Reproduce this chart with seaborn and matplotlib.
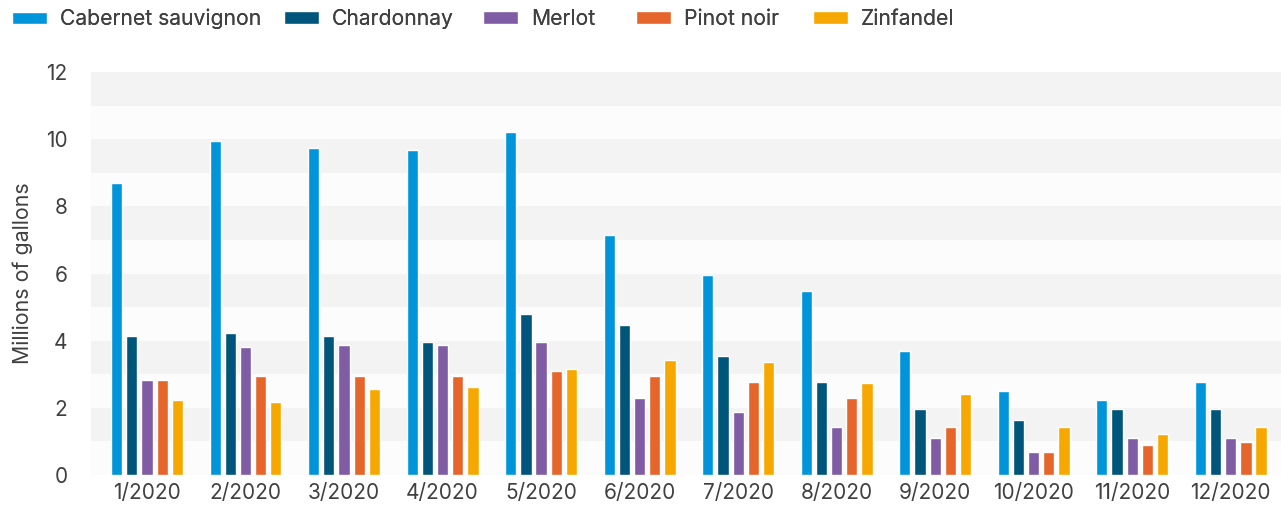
import matplotlib
matplotlib.use("Agg")

import numpy as np
import pandas as pd
import matplotlib.pyplot as plt
import seaborn as sns
from matplotlib.patches import Patch

# Monthly shipments (millions of gallons)
months = ["1/2020", "2/2020", "3/2020", "4/2020", "5/2020", "6/2020",
          "7/2020", "8/2020", "9/2020", "10/2020", "11/2020", "12/2020"]
cabernet = [8.7, 9.95, 9.75, 9.68, 10.2, 7.15, 5.96, 5.48, 3.7, 2.5, 2.24, 2.77]
chardonnay = [4.14, 4.23, 4.14, 3.96, 4.8, 4.47, 3.55, 2.77, 1.97, 1.64, 1.97, 1.97]
merlot = [2.83, 3.81, 3.87, 3.87, 3.96, 2.3, 1.88, 1.43, 1.1, 0.69, 1.1, 1.1]
pinot = [2.83, 2.95, 2.95, 2.95, 3.1, 2.95, 2.77, 2.3, 1.43, 0.69, 0.89, 0.98]
zinfandel = [2.24, 2.18, 2.56, 2.62, 3.16, 3.43, 3.37, 2.74, 2.41, 1.43, 1.22, 1.43]

varieties = ["Cabernet sauvignon", "Chardonnay", "Merlot", "Pinot noir", "Zinfandel"]
colors = ["#0095da", "#00567a", "#7f5ca3", "#e6652a", "#f7a800"]

df = pd.DataFrame({
    "month": months * 5,
    "variety": np.repeat(varieties, len(months)),
    "gallons": cabernet + chardonnay + merlot + pinot + zinfandel,
})

sns.set_theme(style="white")
plt.rcParams["font.family"] = ["Inter", "DejaVu Sans"]

W, H = 1281, 507
fig = plt.figure(figsize=(W / 100, H / 100), dpi=100)
ax = fig.add_axes([91 / W, 32 / H, 1190 / W, 403 / H])

# alternating horizontal bands
ax.set_facecolor("#fcfcfc")
for lo in range(1, 12, 2):
    ax.axhspan(lo, lo + 1, color="#f3f3f3", zorder=0, lw=0)

sns.barplot(data=df, x="month", y="gallons", hue="variety", order=months,
            hue_order=varieties, palette=colors, width=0.77, gap=0.26,
            saturation=1, ax=ax, zorder=2, legend=False)

ax.set_ylim(0, 12)
ax.set_xlim(-0.568, 11.51)
ax.set_yticks(range(0, 13, 2))
ax.set_xlabel("")
ax.set_ylabel("Millions of gallons", fontsize=15.4, color="#404040", labelpad=9)
ax.tick_params(axis="both", length=0, labelsize=15, labelcolor="#404040")
ax.tick_params(axis="y", pad=17)
ax.tick_params(axis="x", pad=6)
for s in ax.spines.values():
    s.set_visible(False)

# legend entries placed like the reference (uneven spacing)
legend_x = [12, 284, 483, 636, 813]
for name, col, px in zip(varieties, colors, legend_x):
    lg = fig.legend([Patch(facecolor=col)], [name], loc="center left",
                    bbox_to_anchor=(px / W, 1 - 19 / H), frameon=False,
                    fontsize=15.2, handlelength=1.68, handleheight=0.53,
                    handletextpad=0.58, borderpad=0, borderaxespad=0,
                    labelcolor="#404040")
    fig.add_artist(lg)

fig.savefig("out.png", dpi=100, facecolor="white")
